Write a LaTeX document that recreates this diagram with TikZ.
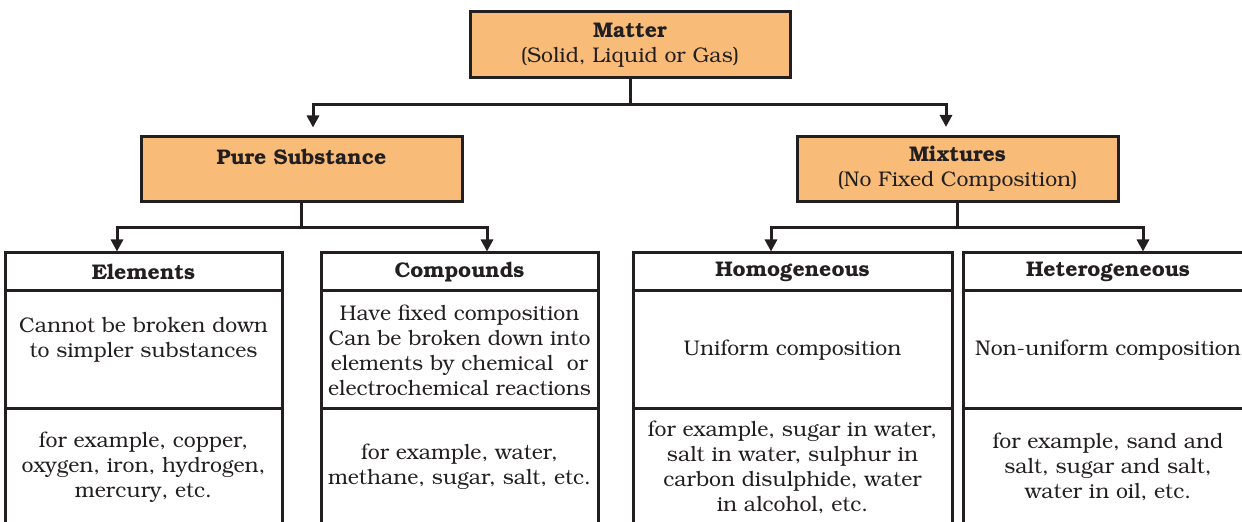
\documentclass[tikz,border=0pt]{standalone}
\usepackage[T1]{fontenc}
\usepackage{bookman}
\usetikzlibrary{arrows.meta}
\definecolor{boxorange}{HTML}{F9BC78}
\definecolor{ink}{HTML}{231F20}

\begin{document}
\begin{tikzpicture}[x=0.5pt,y=-0.5pt,
        txt/.style={align=center, inner sep=0pt, text=ink, font=\fontsize{10.6}{12.5}\selectfont},
        topbox/.style={txt, draw=ink, line width=1.5pt, fill=boxorange, minimum width=160.5pt, minimum height=32.5pt},
        headcell/.style={txt, draw=ink, line width=1.5pt, minimum height=19pt},
        midcell/.style={txt, draw=ink, line width=1.5pt, minimum height=59pt},
        lowcell/.style={txt, draw=ink, line width=1.5pt, minimum height=58pt},
        link/.style={draw=ink, line width=1.5pt},
        arr/.style={link, -{Triangle[width=6pt,length=6pt]}}]
        \useasboundingbox (0,0) rectangle (1242,522);
        \clip (0,0) rectangle (1242,522);
        % Top level
        \node [topbox, minimum width=160pt, minimum height=33pt] (matter) at (630,45)
                {\textbf{Matter}\\(Solid, Liquid or Gas)};
        \node [topbox] (pure) at (301.5,169.5) {\textbf{Pure Substance}\\\mbox{}};
        \node [topbox] (mix) at (957.5,169) {\textbf{Mixtures}\\(No Fixed Composition)};
        % Columns
        \node [headcell, minimum width=138.5pt] (elemhead) at (143.5,272) {\textbf{Elements}};
        \node [midcell, minimum width=138.5pt] (elemmid) at (143.5,350)
                {Cannot be broken down\\to simpler substances\\\mbox{}};
        \node [lowcell, minimum width=138.5pt] (elemlow) at (143.5,467)
                {for example, copper,\\oxygen, iron, hydrogen,\\mercury, etc.};
        \node [headcell, minimum width=138.5pt] (comphead) at (459.5,272) {\textbf{Compounds}};
        \node [midcell, minimum width=138.5pt] (compmid) at (459.5,350)
                {Have fixed composition\\Can be broken down into\\elements by chemical~ or\\electrochemical reactions};
        \node [lowcell, minimum width=138.5pt] (complow) at (459.5,467)
                {for example, water,\\methane, sugar, salt, etc.};
        \node [headcell, minimum width=159.5pt] (homohead) at (792.5,272) {\textbf{Homogeneous}};
        \node [midcell, minimum width=159.5pt] (homomid) at (792.5,350) {Uniform composition};
        \node [lowcell, minimum width=159.5pt] (homolow) at (792.5,467)
                {for example, sugar in water,\\salt in water, sulphur in\\carbon disulphide, water\\in alcohol, etc.};
        \node [headcell, minimum width=145pt] (hethead) at (1108,272) {\textbf{Heterogeneous}};
        \node [midcell, minimum width=145pt] (hetmid) at (1108,350) {Non-uniform composition};
        \node [lowcell, minimum width=145pt] (hetlow) at (1108,467)
                {for example, sand and\\salt, sugar and salt,\\water in oil, etc.};
        % Connectors
        \coordinate (topbus) at (630,105);
        \coordinate (purebus) at (301.5,228);
        \coordinate (mixbus) at (957.5,228);
        \draw [link] (matter.south) -- (topbus);
        \draw [arr, shorten >=4pt] (topbus) -| ([xshift=5.75pt]pure.north);
        \draw [arr, shorten >=4pt] (topbus) -| ([xshift=-5.75pt]mix.north);
        \draw [link] (pure.south) -- (purebus);
        \draw [arr] (purebus) -| ([xshift=-13.25pt]elemhead.north);
        \draw [arr] (purebus) -| ([xshift=13.75pt]comphead.north);
        \draw [link] (mix.south) -- (mixbus);
        \draw [arr] (mixbus) -| ([xshift=-10.75pt]homohead.north);
        \draw [arr] (mixbus) -| ([xshift=17.5pt]hethead.north);
\end{tikzpicture}
\end{document}
